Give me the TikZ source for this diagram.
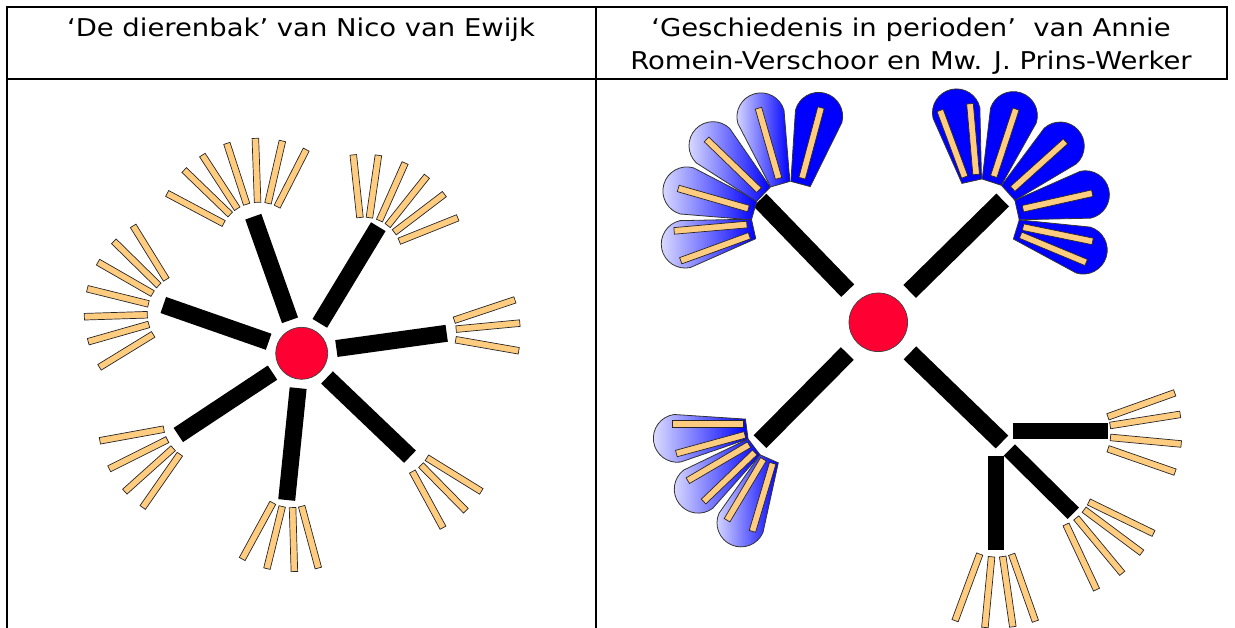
\documentclass[tikz,border=0pt]{standalone}
\usepackage{fontspec}
\setmainfont[FakeStretch=1.12]{DejaVu Sans}
\usetikzlibrary{calc}
\definecolor{stickorange}{RGB}{255,204,128}
\definecolor{hubred}{RGB}{255,0,51}
\definecolor{petalpale}{RGB}{222,222,255}
\newcommand{\sticks}[4]{%
  \foreach \ang in {#4}{
    \draw[stick] ($(#1)+(\ang:#2)+({\ang+90}:3.3)$) -- ($(#1)+(\ang:#3)+({\ang+90}:3.3)$)
      -- ($(#1)+(\ang:#3)+({\ang-90}:3.3)$) -- ($(#1)+(\ang:#2)+({\ang-90}:3.3)$) -- cycle;}}
\newcommand{\petal}[3][petalfade]{%
  \draw[#1] ($(#2)+(#3:38)+({#3-90}:10)$) -- ($(#2)+(#3:108)+({#3-90}:24)$)
    arc[start angle={#3-90}, end angle={#3+90}, radius=24]
    -- ($(#2)+(#3:38)+({#3+90}:10)$) -- cycle;}
\begin{document}
\begin{tikzpicture}[x=1pt, y=-1pt,
    rule/.style={line width=2pt},
    head/.style={font=\fontsize{24.5}{30}\selectfont, inner sep=0pt, anchor=base},
    spoke/.style={line width=17pt},
    branch/.style={line width=16pt},
    stick/.style={draw=black!85, line width=0.7pt, fill=stickorange},
    hubdot/.style={circle, draw=black!75, line width=0.7pt, fill=hubred, inner sep=0pt},
    petalfade/.style={draw=black!80, line width=0.8pt, left color=petalpale, right color=blue},
    petalblue/.style={draw=black!80, line width=0.8pt, fill=blue}]
  \useasboundingbox (0,0) rectangle (1235,628);

  % table
  \draw[rule] (6,7) -- (1228,7);
  \draw[rule] (6,79.5) -- (1228,79.5);
  \draw[rule] (7,7) -- (7,628);
  \draw[rule] (595.5,7) -- (595.5,628);
  \draw[rule] (1227,7) -- (1227,79.5);
  \node[head] (titleL) at (301,36.5) {‘De dierenbak’ van Nico van Ewijk};
  \node[head] (titleR) at (911,36.5) {‘Geschiedenis in perioden’~ van Annie};
  \node[head] (titleR2) at (911,69.5) {Romein-Verschoor en Mw. J. Prins-Werker};

  % de dierenbak
  \node[hubdot, minimum size=52pt] (hubL) at (301.7,353.3) {};
  \coordinate (tipA) at (253.3,216.7);
  \coordinate (tipB) at (378.3,226.7);
  \coordinate (tipC) at (446.7,333.3);
  \coordinate (tipD) at (410,456.7);
  \coordinate (tipE) at (286.7,500);
  \coordinate (tipF) at (178.3,435);
  \coordinate (tipG) at (163.3,305);
  \foreach \t in {A,B,C,D,E,F,G}{
    \draw[spoke] ($(hubL)!35pt!(tip\t)$) -- (tip\t);}
  \coordinate (fanA) at (259,242.3);
  \coordinate (fanB) at (364,255.3);
  \coordinate (fanC) at (416.3,332.9);
  \coordinate (fanD) at (393.7,437.3);
  \coordinate (fanE) at (291.5,468.6);
  \coordinate (fanF) at (202.2,422.2);
  \coordinate (fanG) at (187.3,313.5);
  \sticks{fanA}{40}{104}{-152,-136,-123,-108,-92,-77,-63}
  \sticks{fanB}{38}{101}{-96.1,-81.8,-66,-51.5,-37.3,-21.8}
  \sticks{fanC}{40}{104}{-18.5,-5.4,9.9}
  \sticks{fanD}{39}{103}{31.7,45.5,61.4}
  \sticks{fanE}{39}{103}{118.6,103.8,88.4,74.9}
  \sticks{fanF}{39}{104}{169.7,153.4,138.1,124.9}
  \sticks{fanG}{40}{103}{238.3,224.5,209.9,193.9,178.2,164.1,148.5}

  % geschiedenis in perioden
  \node[hubdot, minimum size=58.6pt] (hubR) at (878.3,322.3) {};
  \coordinate (tipUL) at (760,200);
  \coordinate (tipUR) at (1002.7,200);
  \coordinate (tipLL) at (760,441.7);
  \coordinate (tipLR) at (1002,442);
  \foreach \t in {UL,UR,LL,LR}{
    \draw[spoke, line width=18pt] ($(hubR)!44pt!(tip\t)$) -- (tip\t);}
  \coordinate (brH1) at (1012.7,431.2);
  \coordinate (brH2) at (1107.7,431.2);
  \coordinate (brV1) at (995.8,456);
  \coordinate (brV2) at (995.8,550);
  \coordinate (brD1) at (1009.3,450);
  \coordinate (brD2) at (1073.3,513.3);
  \draw[branch] (brH1) -- (brH2);
  \draw[branch] (brV1) -- (brV2);
  \draw[branch] (brD1) -- (brD2);
  \coordinate (fanUL) at (790.7,220.7);
  \coordinate (fanUR) at (980,218.3);
  \coordinate (fanLL) at (784.4,424);
  \coordinate (fanH) at (1062.7,433);
  \coordinate (fanD2) at (1045.6,481);
  \coordinate (fanV) at (996,510);
  \foreach \ang in {167.5,196,224,254}{
    \petal{fanUL}{\ang}}
  \petal[petalblue]{fanUL}{285}
  \foreach \ang in {257.4,288,318,347.4,17.1}{
    \petal[petalblue]{fanUR}{\ang}}
  \foreach \ang in {172.4,142.9,113.7}{
    \petal{fanLL}{\ang}}
  \sticks{fanUL}{44}{117}{160,175,196,224,254,285}
  \sticks{fanUR}{44}{115}{249.7,265,288.2,318,347.4,11.6,22.6}
  \sticks{fanLL}{41}{112}{180,164.7,149.6,136.2,120.8,106.6}
  \sticks{fanH}{48}{119}{-19.7,-9,5.3,19.2}
  \sticks{fanD2}{48}{120}{25.9,36.7,50.3,64.9}
  \sticks{fanV}{47}{118}{110.3,95.4,81.8,70.5}
\end{tikzpicture}
\end{document}
